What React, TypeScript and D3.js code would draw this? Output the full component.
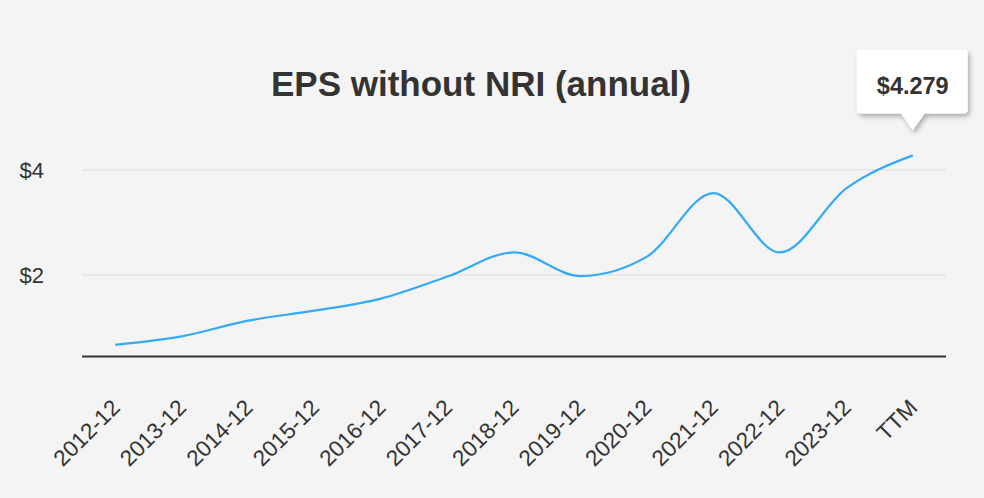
import React, { useEffect, useRef } from "react";
import * as d3 from "d3";

// EPS without NRI
const categories = [
  "2012-12", "2013-12", "2014-12", "2015-12", "2016-12", "2017-12", "2018-12",
  "2019-12", "2020-12", "2021-12", "2022-12", "2023-12", "TTM",
];
const epsValues = [0.67, 0.83, 1.13, 1.32, 1.55, 1.97, 2.43, 1.98, 2.35, 3.56, 2.43, 3.65, 4.279];
const yTicks = [2, 4];
const tooltipLabel = "$4.279";

const W = 984;
const H = 498;
const font = "'Liberation Sans', Arial, sans-serif";

export default function App() {
  const ref = useRef<SVGSVGElement>(null);

  useEffect(() => {
    const svg = d3.select(ref.current);
    svg.selectAll("*").remove();

    const left = 82, right = 946, top = 170, bottom = 356;
    const x = d3.scalePoint<string>().domain(categories).range([left, right]).padding(0.5);
    const y = d3.scaleLinear().domain([0.457, 4]).range([bottom, top]);

    const defs = svg.append("defs");
    const f = defs.append("filter").attr("id", "shadow").attr("x", "-20%").attr("y", "-20%")
      .attr("width", "150%").attr("height", "160%");
    f.append("feDropShadow").attr("dx", 2).attr("dy", 3).attr("stdDeviation", 2.5)
      .attr("flood-color", "#000").attr("flood-opacity", 0.3);

    svg.append("rect").attr("width", W).attr("height", H).attr("fill", "#f4f4f4");

    // title
    svg.append("text")
      .attr("x", 481).attr("y", 95.5)
      .attr("text-anchor", "middle")
      .style("font-family", font).style("font-size", "35px").style("font-weight", "bold")
      .attr("fill", "#333")
      .text("EPS without NRI (annual)");

    // grid + y labels
    const grid = svg.append("g");
    yTicks.forEach((t) => {
      grid.append("line")
        .attr("x1", left).attr("x2", right).attr("y1", y(t)).attr("y2", y(t))
        .attr("stroke", "#e4e4e4").attr("stroke-width", 1.5);
      grid.append("text")
        .attr("x", 44).attr("y", y(t)).attr("dy", "0.35em")
        .attr("text-anchor", "end")
        .style("font-family", font).style("font-size", "22px")
        .attr("fill", "#333")
        .text("$" + t);
    });

    // x axis line
    svg.append("line")
      .attr("x1", left).attr("x2", right).attr("y1", bottom + 0.5).attr("y2", bottom + 0.5)
      .attr("stroke", "#333").attr("stroke-width", 2);

    // x labels
    svg.append("g").selectAll("text").data(categories).enter().append("text")
      .attr("transform", (d) => `translate(${(x(d) as number) + 6},409) rotate(-45)`)
      .attr("text-anchor", "end")
      .style("font-family", font).style("font-size", "22.5px")
      .attr("fill", "#333")
      .text((d) => d);

    // series
    const line = d3.line<number>()
      .x((_, i) => x(categories[i]) as number)
      .y((d) => y(d))
      .curve(d3.curveMonotoneX);
    svg.append("path")
      .datum(epsValues)
      .attr("d", line)
      .attr("fill", "none")
      .attr("stroke", "#33aaf8")
      .attr("stroke-width", 2.2);

    // tooltip on last point
    const lx = x(categories[categories.length - 1]) as number;
    const tipY = y(epsValues[epsValues.length - 1]) - 25;
    const bx0 = lx - 56, bx1 = lx + 55, by0 = 49.5, by1 = 113.5, r = 4;
    const p = d3.path();
    p.moveTo(bx0 + r, by0);
    p.lineTo(bx1 - r, by0);
    p.arcTo(bx1, by0, bx1, by0 + r, r);
    p.lineTo(bx1, by1 - r);
    p.arcTo(bx1, by1, bx1 - r, by1, r);
    p.lineTo(lx + 12, by1);
    p.lineTo(lx, tipY);
    p.lineTo(lx - 12, by1);
    p.lineTo(bx0 + r, by1);
    p.arcTo(bx0, by1, bx0, by1 - r, r);
    p.lineTo(bx0, by0 + r);
    p.arcTo(bx0, by0, bx0 + r, by0, r);
    p.closePath();
    svg.append("path").attr("d", p.toString())
      .attr("fill", "#fff").attr("filter", "url(#shadow)");
    svg.append("text")
      .attr("x", lx).attr("y", 93.5)
      .attr("text-anchor", "middle")
      .style("font-family", font).style("font-size", "23.5px").style("font-weight", "bold")
      .attr("fill", "#333")
      .text(tooltipLabel);
  }, []);

  return (
    <div style={{ position: "fixed", left: 0, top: 0 }}>
      <svg ref={ref} width={W} height={H} style={{ display: "block" }}></svg>
    </div>
  );
}
